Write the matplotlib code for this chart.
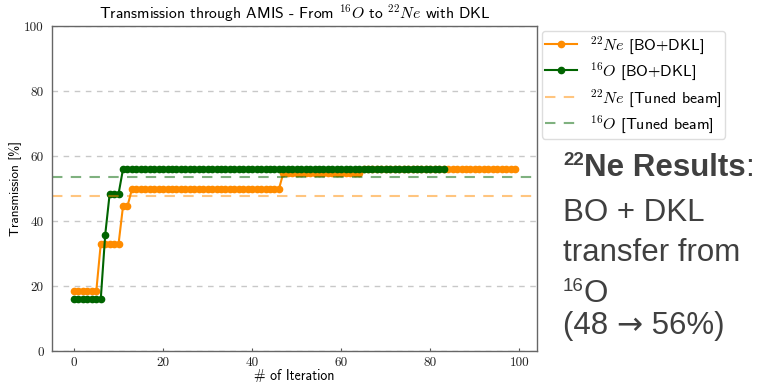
import matplotlib
matplotlib.use("Agg")
import matplotlib.pyplot as plt
import numpy as np

# ---------------- data ----------------
iter_ne = list(range(0, 100))
ne_values = ([18.5] * 6 + [33.0] * 5 + [44.6] * 2 + [49.8] * 34 +
             [54.8] * 18 + [56.0] * 35)
iter_o = list(range(0, 84))
o_values = [16.0] * 7 + [35.8] + [48.4] * 3 + [56.0] * 73
tuned_ne = 47.6
tuned_o = 53.4

title = r"Transmission through AMIS - From $^{16}O$ to $^{22}Ne$ with DKL"
xlabel = "# of Iteration"
ylabel = "Transmission [%]"
legend_labels = [r"$^{22}Ne$ [BO+DKL]", r"$^{16}O$ [BO+DKL]",
                 r"$^{22}Ne$ [Tuned beam]", r"$^{16}O$ [Tuned beam]"]

plt.rcParams["mathtext.fontset"] = "cm"
plt.rcParams["font.family"] = ["cmss10", "DejaVu Sans"]
plt.rcParams["axes.unicode_minus"] = False

fig = plt.figure(figsize=(7.62, 3.82), dpi=100)
ax = fig.add_axes([52 / 762, 1 - 351 / 382, (537 - 52) / 762, (351 - 26) / 382])

orange = "#ff8c00"
green = "#006400"
l1, = ax.plot(iter_ne, ne_values, color=orange, marker="o", ms=4.5, lw=1.5,
              label=legend_labels[0])
l2, = ax.plot(iter_o, o_values, color=green, marker="o", ms=4.5, lw=1.5,
              label=legend_labels[1])
l3 = ax.axhline(tuned_ne, color=orange, alpha=0.5, ls=(0, (5, 4)), lw=1.5,
                label=legend_labels[2])
l4 = ax.axhline(tuned_o, color=green, alpha=0.5, ls=(0, (5, 4)), lw=1.5,
                label=legend_labels[3])

ax.set_ylim(0, 100)
ax.set_xticks([0, 20, 40, 60, 80, 100])
ax.set_yticks([0, 20, 40, 60, 80, 100])
ax.yaxis.grid(True, color="#c8c8c8", ls=(0, (4, 4)), lw=1)
ax.set_axisbelow(True)
for s in ax.spines.values():
    s.set_color("#666666")
    s.set_linewidth(1)
ax.tick_params(axis="x", direction="in", length=2, width=0.8, color="#555555",
               labelsize=9.5, pad=4)
ax.tick_params(axis="y", length=0, labelsize=9.5, pad=6)
for lab in ax.get_xticklabels() + ax.get_yticklabels():
    lab.set_fontfamily(["cmr10", "DejaVu Serif"])
    lab.set_color("#222222")

ax.set_title(title, fontsize=11.3, pad=5)
ax.set_xlabel(xlabel, fontsize=10, labelpad=0)
ax.set_ylabel(ylabel, fontsize=9.5, labelpad=1.5)

leg = ax.legend(handles=[l1, l2, l3, l4], loc="upper left",
                bbox_to_anchor=(1.0, 1.0), borderaxespad=0.3,
                fontsize=11.5, frameon=True,
                framealpha=1, edgecolor="#dddddd", fancybox=True,
                labelspacing=0.3, handlelength=2.0, borderpad=0.22)
for h in leg.legend_handles:
    h.set_markersize(4.5)

# ---------------- right-side annotation ----------------
txt_color = "#404040"
fsz = 22.5
sup = 13.5
renderer = fig.canvas.get_renderer()


def run(pieces, x_px, y_px):
    x = x_px
    for s, size, weight, dy, fam in pieces:
        t = fig.text(x / 762, 1 - (y_px - dy) / 382, s, fontsize=size,
                     fontweight=weight, color=txt_color,
                     family=[fam, "DejaVu Sans"],
                     va="baseline", ha="left")
        bb = t.get_window_extent(renderer)
        x = bb.x1


LS = "Liberation Sans"
run([("22", sup, "bold", 11, LS), ("Ne Results", fsz, "bold", 0, LS),
     (":", fsz, "normal", 0, LS)], 563, 176)
run([("BO + DKL", fsz, "normal", 0, LS)], 563, 221)
run([("transfer from", fsz, "normal", 0, LS)], 563, 261)
run([("16", sup, "normal", 11, LS), ("O", fsz, "normal", 0, LS)], 563, 302)
run([("(48 ", fsz, "normal", 0, LS), ("\u2192", fsz, "normal", 0, "DejaVu Sans"),
     (" 56%)", fsz, "normal", 0, LS)], 563, 334)

fig.savefig("out.png", dpi=100)
